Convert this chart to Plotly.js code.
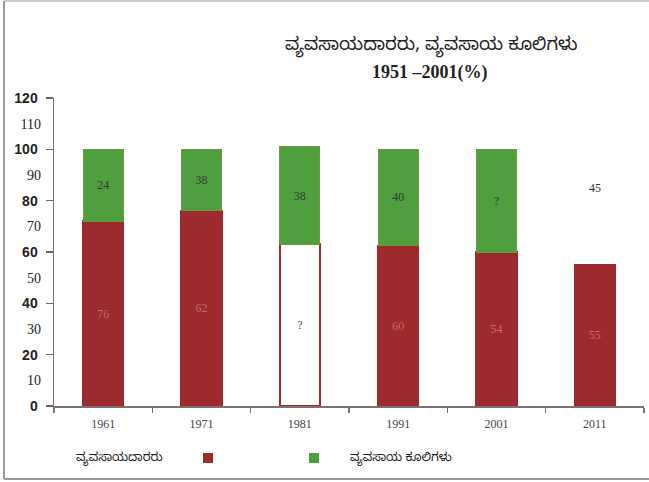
<!DOCTYPE html>
<html><head><meta charset="utf-8">
<script src="https://cdn.plot.ly/plotly-3.0.1.min.js"></script>
<style>html,body{margin:0;padding:0;background:#fff;}#chart{width:649px;height:482px;}</style>
</head><body><div id="chart"></div>
<script>
const years = ['1961','1971','1981','1991','2001','2011'];
const farmers = [72, 76, 63, 62.5, 60, 55];
const labourers = [28, 24, 38, 37.5, 40, null];
const farmerLabels = ['76','62','?','60','54','55'];
const labourerLabels = ['24','38','38','40','?',''];
const extraYear = '2011';
const extraValue = 85;
const extraLabel = '45';
const yTicksMajor = [0,20,40,60,80,100,120];
const yTicksMinor = [10,30,50,70,90,110];
const seriesNames = ['ವ್ಯವಸಾಯದಾರರು', 'ವ್ಯವಸಾಯ ಕೂಲಿಗಳು'];
const titleLine1 = 'ವ್ಯವಸಾಯದಾರರು, ವ್ಯವಸಾಯ ಕೂಲಿಗಳು';
const titleLine2 = '1951 –2001(%)';

const RED = '#9d2b2d', GREEN = '#4f9f3e';
const KN = '"Noto Sans Kannada","Noto Sans","Lohit Kannada",sans-serif';
const SERIF = '"Liberation Serif","DejaVu Serif",serif';
const SANS = '"Liberation Sans",Arial,sans-serif';

const fillColors = farmerLabels.map(t => t === '?' ? '#ffffff' : RED);

const traces = [
  {type:'bar', x: years, y: farmers, name: seriesNames[0],
   marker:{color: fillColors, line:{color: RED, width: 2}},
   text: farmerLabels, textposition:'inside', insidetextanchor:'middle', textangle:0,
   textfont:{family: SERIF, size: 12, color: farmerLabels.map(t => t === '?' ? '#444' : '#c26a6a')},
   hoverinfo:'skip'},
  {type:'bar', x: years, y: labourers, name: seriesNames[1],
   marker:{color: GREEN, line:{color: '#6a9a40', width: 1}},
   text: labourerLabels, textposition:'inside', insidetextanchor:'middle', textangle:0,
   textfont:{family: SERIF, size: 12, color: '#3a3a3a'},
   hoverinfo:'skip'},
  {type:'scatter', mode:'markers', x: years, y: farmers, yaxis:'y2',
   marker:{opacity:0, size:1}, showlegend:false, hoverinfo:'skip'}
];

const layout = {
  width: 649, height: 482,
  margin:{l:54, r:5, t:98, b:76},
  paper_bgcolor:'#fff', plot_bgcolor:'#fff',
  barmode:'stack', bargap: 0.59,
  showlegend:false,
  font:{family: SERIF, color:'#333'},
  xaxis:{type:'category', range:[-0.5, years.length - 0.5], showline:true, linecolor:'#7d726b', linewidth:1.5,
         ticks:'outside', tickson:'boundaries', ticklen:5, tickcolor:'#7d726b', tickwidth:1.5, tickangle:0,
         ticklabelstandoff: 6,
         tickfont:{family: SERIF, size: 12, color:'#444'}, showgrid:false, zeroline:false},
  yaxis:{range:[0,120], tickvals: yTicksMajor, ticks:'outside', ticklen:7, tickcolor:'#6f655f', tickwidth:1.5,
         showline:true, linecolor:'#7d726b', linewidth:1.5, showgrid:false, zeroline:false,
         ticklabelstandoff: 5, tickfont:{family: SANS, size:14, weight:'bold', color:'#222'}},
  yaxis2:{range:[0,120], overlaying:'y', side:'left', anchor:'x', tickvals: yTicksMinor, ticks:'',
          showticklabels:true, ticklabelstandoff: 12, tickfont:{family: SERIF, size:14, color:'#222'},
          showgrid:false, zeroline:false, showline:false},
  annotations:[
    {x: years.indexOf(extraYear), y: extraValue, xref:'x', yref:'y', text: extraLabel, showarrow:false,
     font:{family: SERIF, size: 12, color:'#333'}},
    {x: (431-54)/590, y: (406-47)/308, xref:'paper', yref:'paper', xanchor:'center', yanchor:'middle',
     text: titleLine1, showarrow:false, font:{family: KN, size: 18, color:'#222'}},
    {x: (430-54)/590, y: (406-73)/308, xref:'paper', yref:'paper', xanchor:'center', yanchor:'middle',
     text: '<b>' + titleLine2 + '</b>', showarrow:false, font:{family: SERIF, size: 18, color:'#222'}},
    {x: (165-54)/590, y: (406-459)/308, xref:'paper', yref:'paper', xanchor:'right', yanchor:'middle',
     text: seriesNames[0], showarrow:false, font:{family: KN, size: 12, color:'#222'}},
    {x: (348-54)/590, y: (406-459)/308, xref:'paper', yref:'paper', xanchor:'left', yanchor:'middle',
     text: seriesNames[1], showarrow:false, font:{family: KN, size: 12, color:'#222'}}
  ],
  shapes:[
    {type:'rect', xref:'paper', yref:'paper', x0:(203-54)/590, x1:(213-54)/590, y0:(406-453)/308, y1:(406-463)/308,
     fillcolor: RED, line:{width:0}},
    {type:'rect', xref:'paper', yref:'paper', x0:(309-54)/590, x1:(319-54)/590, y0:(406-453)/308, y1:(406-463)/308,
     fillcolor: GREEN, line:{width:0}},
    {type:'line', xref:'paper', yref:'paper', x0:(4-54)/590, x1:(4-54)/590, y0:(406-1)/308, y1:(406-479)/308,
     line:{color:'#9a9a9a', width:2}},
    {type:'line', xref:'paper', yref:'paper', x0:(4-54)/590, x1:(660-54)/590, y0:(406-1)/308, y1:(406-1)/308,
     line:{color:'#bdbdbd', width:1.5}},
    {type:'line', xref:'paper', yref:'paper', x0:(4-54)/590, x1:(660-54)/590, y0:(406-479)/308, y1:(406-479)/308,
     line:{color:'#9a9a9a', width:2}}
  ]
};
Plotly.newPlot('chart', traces, layout, {displayModeBar:false, staticPlot:true});
</script></body></html>
